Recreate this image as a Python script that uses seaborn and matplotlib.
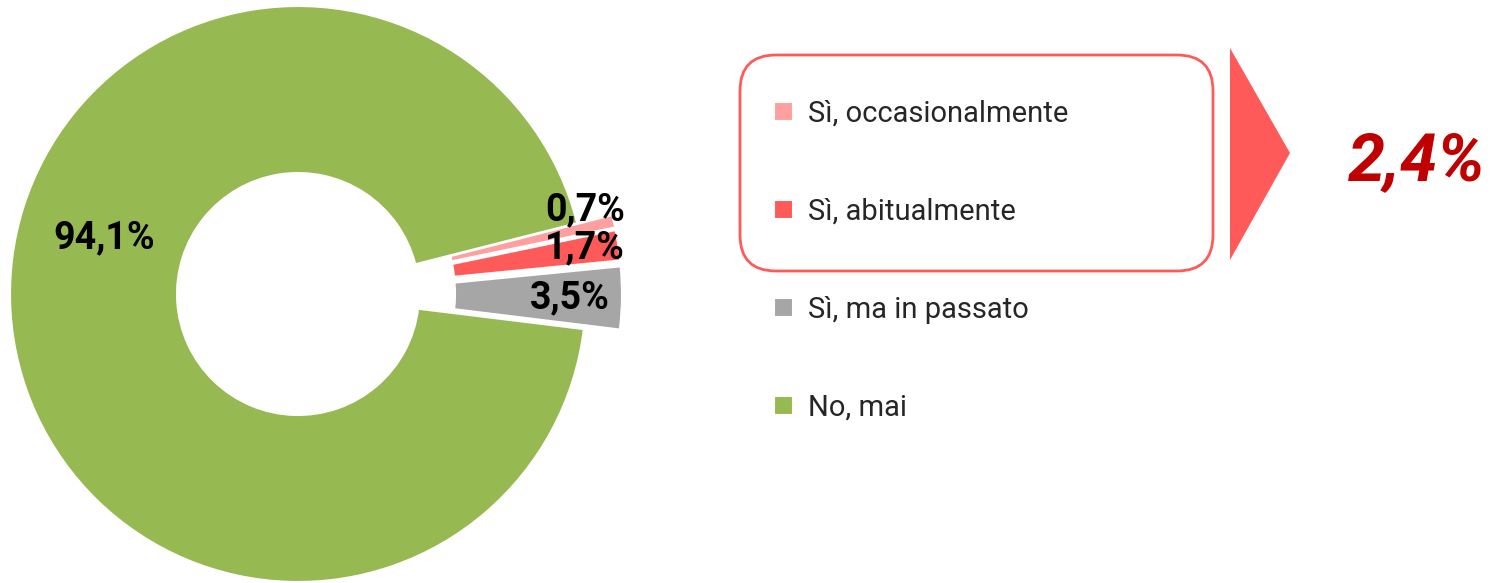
import matplotlib
matplotlib.use("Agg")
import matplotlib.pyplot as plt
import numpy as np
import seaborn as sns
from matplotlib.patches import FancyBboxPatch, Polygon

# data (order of drawing: counter-clockwise from the right)
categories = ["Sì, ma in passato", "Sì, abitualmente", "Sì, occasionalmente", "No, mai"]
values = [3.5, 1.7, 0.7, 94.1]
colors = ["#a6a6a6", "#ff5a5a", "#ff9f9f", "#97b952"]
legend_order = [2, 1, 0, 3]
highlight = [1, 2]  # slices summed in the callout

# layout
W, H = 1491, 583
cx, cy, R = 298, 294, 288          # pie centre / radius in pixels
label_pos = [(0.945, -0.8), (1.01, 9.1), (1.04, 16.3), (0.70, 163.8)]  # (r, deg)


def fmt(v):
    return f"{v:.1f}%".replace(".", ",")


sns.set_theme(style="white")
plt.rcParams['font.family'] = ['Roboto', 'DejaVu Sans']

fig = plt.figure(figsize=(W / 100, H / 100), dpi=100)

# overlay axes in pixel coordinates for the callout box / arrow / total
ov = fig.add_axes([0, 0, 1, 1])
ov.set_xlim(0, W)
ov.set_ylim(H, 0)
ov.axis("off")

ax = fig.add_axes([0, 0, 700 / W, 1])
pal = sns.color_palette(colors)
wedges, _ = ax.pie(values, colors=pal, startangle=-7, counterclock=True,
                   explode=[0.125, 0.125, 0.125, 0], radius=1,
                   wedgeprops=dict(width=1 - 121 / R, edgecolor="white", linewidth=1.5))
ax.set_xlim(-cx / R, (700 - cx) / R)
ax.set_ylim((cy - H) / R, cy / R)
ax.set_aspect("auto")
ax.axis("off")

for v, (r, a) in zip(values, label_pos):
    t = np.deg2rad(a)
    ax.text(r * np.cos(t), r * np.sin(t), fmt(v), ha="center", va="center",
            fontsize=27, fontweight="bold", color="black")

# legend
handles = [wedges[i] for i in legend_order]
labels = [categories[i] for i in legend_order]
fig.legend(handles, labels, loc="upper left", bbox_to_anchor=(774 / W, 1 - 100 / H),
           frameon=False, fontsize=21, handlelength=0.65, handleheight=0.65,
           handletextpad=0.5, labelspacing=2.4, borderpad=0, borderaxespad=0)

# callout
box = FancyBboxPatch((740, 55), 473, 216, boxstyle="round,pad=0,rounding_size=36",
                     facecolor="none", edgecolor="#ff5a5a", linewidth=2)
ov.add_patch(box)
ov.add_patch(Polygon([(1230, 48), (1290, 153), (1230, 260)], closed=True,
                     facecolor="#ff5a5a", edgecolor="none"))
total = sum(values[i] for i in highlight)
ov.text(1417, 162, fmt(total), ha="center", va="center", fontsize=48,
        fontweight="bold", fontstyle="italic", color="#c00000")

fig.savefig("out.png", dpi=100)
